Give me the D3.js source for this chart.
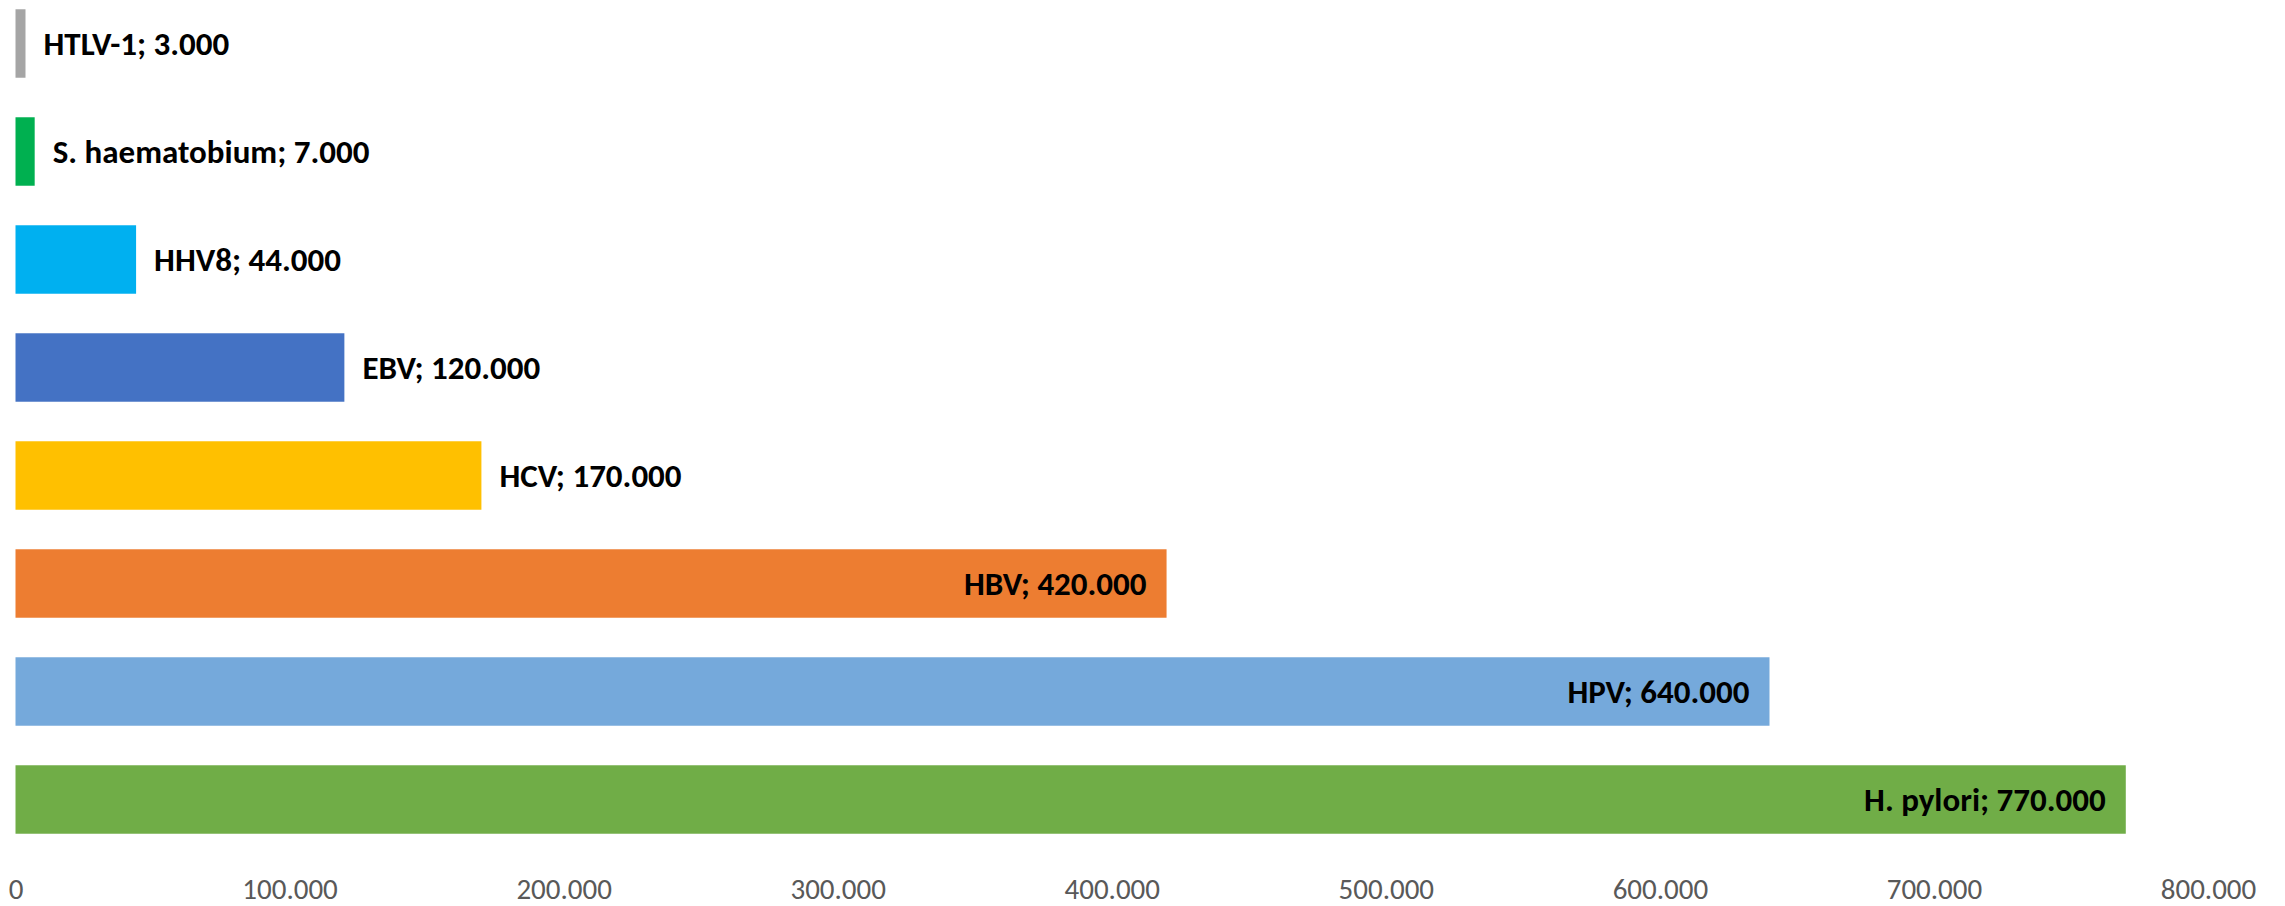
<!DOCTYPE html>
<html>
<head>
<meta charset="utf-8">
<script src="https://cdn.jsdelivr.net/npm/d3@7"></script>
<style>
    html, body { margin: 0; padding: 0; background: #fff; }
    .tick text { font-family: Carlito, Lato, sans-serif; fill: #595959; }
    .bar-label { font-family: Carlito, Lato, sans-serif; font-weight: bold; fill: #000; }
</style>
</head>
<body>
<div class="chart"></div>
<script>
const categories = ["HTLV-1", "S. haematobium", "HHV8", "EBV", "HCV", "HBV", "HPV", "H. pylori"];
const values = [3000, 7000, 44000, 120000, 170000, 420000, 640000, 770000];
const colors = ["#a5a5a5", "#00b050", "#00b0f0", "#4472c4", "#ffc000", "#ed7d31", "#75a9db", "#70ad47"];
const xTicks = [0, 100000, 200000, 300000, 400000, 500000, 600000, 700000, 800000];

function drawChart() {
    const w = 2285;
    const h = 906;
    const data = categories.map((c, i) => ({ name: c, value: values[i], color: colors[i] }));

    const locale = d3.formatLocale({ decimal: ",", thousands: ".", grouping: [3], currency: ["", ""] });
    const fmtTick = locale.format(",d");

    var svg = d3.select('.chart')
        .append("svg")
        .attr("width", w)
        .attr("height", h);

    var xScale = d3.scaleLinear()
        .domain([0, 800000])
        .range([15.5, 2208]);

    var yScale = d3.scaleBand()
        .domain(categories)
        .range([-10.5, 853.5])
        .paddingInner(0.366)
        .paddingOuter(0.183);

    // x axis, labels only (no line, no ticks)
    var xAxis = d3.axisBottom(xScale)
        .tickValues(xTicks)
        .tickFormat(fmtTick)
        .tickSize(0)
        .tickPadding(0);

    var gx = svg.append("g")
        .attr("transform", "translate(0, 899)")
        .call(xAxis);
    gx.select(".domain").remove();
    gx.selectAll(".tick text")
        .attr("y", 0)
        .attr("dy", "0")
        .style("font-size", "29px");

    svg.selectAll("rect.bar")
        .data(data)
        .enter().append("rect")
        .attr("class", "bar")
        .attr("x", xScale(0))
        .attr("y", d => yScale(d.name))
        .attr("width", d => Math.max(xScale(d.value) - xScale(0), 10))
        .attr("height", yScale.bandwidth())
        .attr("fill", d => d.color);

    // labels: inside end for the long bars, outside end for the rest
    svg.selectAll("text.bar-label")
        .data(data)
        .enter().append("text")
        .attr("class", "bar-label")
        .style("font-size", "33px")
        .attr("dy", "0.35em")
        .attr("y", d => yScale(d.name) + yScale.bandwidth() / 2)
        .attr("x", d => {
            var end = xScale(0) + Math.max(xScale(d.value) - xScale(0), 10);
            return d.value > 400000 ? end - 20 : end + 18;
        })
        .attr("text-anchor", d => d.value > 400000 ? "end" : "start")
        .text(d => d.name + "; " + fmtTick(d.value));
}

drawChart();
</script>
</body>
</html>
